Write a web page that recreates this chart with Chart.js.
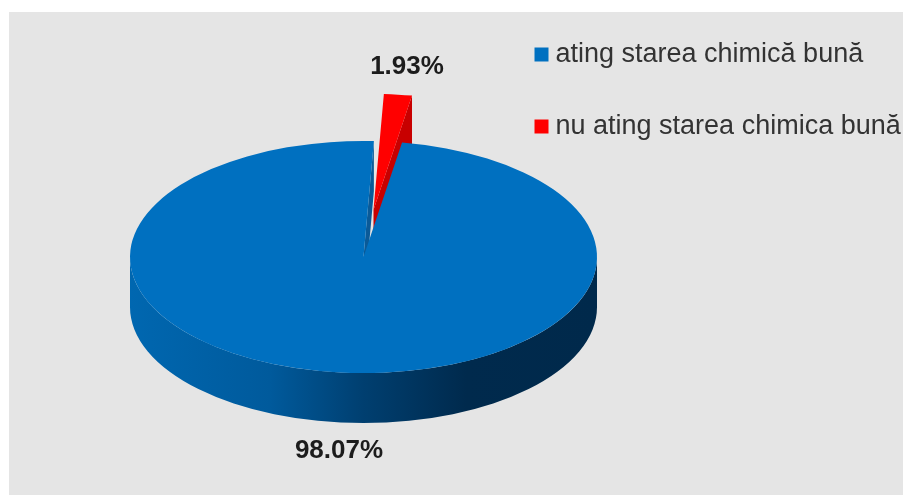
<!DOCTYPE html>
<html><head><meta charset="utf-8">
<script src="https://cdn.jsdelivr.net/npm/chart.js@4"></script>
<style>html,body{margin:0;padding:0;background:#fff}canvas{display:block;filter:blur(0.7px)}</style>
</head><body><canvas id="c" width="903" height="495"></canvas>
<script>
const categories = ["ating starea chimică bună", "nu ating starea chimica bună"];
const shares = [98.07, 1.93];
const sliceColors = ["#0070c0", "#ff0000"];
const FONT = "'Liberation Sans', Arial, sans-serif";

const SQ = 0.497, CY = 257, DEPTH = 50, EXPLODE = [0, 95];
const shift = (a, i) => {
  const mid = (a.startAngle + a.endAngle) / 2;
  return [Math.cos(mid) * EXPLODE[i], Math.sin(mid) * EXPLODE[i]];
};
const view = {
  id: "view",
  beforeDraw(chart) {
    const c = chart.ctx;
    c.save(); c.fillStyle = "#e5e5e5"; c.fillRect(9, 12, 894, 483); c.restore();
  },
  afterLayout(chart) {
    const l = chart.legend, pad = l.options.labels.padding;
    l.left = 541 - pad; l.right = 903;
    l.top = 41 - pad; l.bottom = 495;
  },
  afterDatasetUpdate(chart) {
    chart.getDatasetMeta(0).data.forEach((a, i) => {
      if (!EXPLODE[i] || a.__exploded) return;
      const draw = a.draw;
      a.__exploded = true;
      a.draw = function (ctx, area) {
        const d = shift(this, i);
        ctx.save(); ctx.translate(d[0], d[1]); draw.call(this, ctx, area); ctx.restore();
      };
    });
  },
  beforeDatasetsDraw(chart) {
    const c = chart.ctx, [blue, red] = chart.getDatasetMeta(0).data;
    const x = blue.x, R = blue.outerRadius;
    const d = shift(red, 1);
    const rx = x + d[0], ry = CY + d[1] * SQ;
    const pt = (ox, oy, a) => [ox + R * Math.cos(a), oy + R * SQ * Math.sin(a)];
    const g = c.createLinearGradient(x - R, 0, x + R, 0);
    g.addColorStop(0, "#0067b0"); g.addColorStop(0.3, "#005a9c");
    g.addColorStop(0.5, "#003f70"); g.addColorStop(0.72, "#002a4d"); g.addColorStop(1, "#00294b");
    c.save(); c.fillStyle = g; c.beginPath();
    c.ellipse(x, CY, R, R * SQ, 0, 0, Math.PI);
    c.ellipse(x, CY + DEPTH, R, R * SQ, 0, Math.PI, 0, true);
    c.closePath(); c.fill();
    let p = pt(x, CY, blue.endAngle);
    c.fillStyle = "#0a5a98"; c.beginPath();
    c.moveTo(x, CY); c.lineTo(p[0], p[1]); c.lineTo(p[0], p[1] + DEPTH); c.lineTo(x, CY + DEPTH); c.closePath(); c.fill();
    p = pt(rx, ry, red.endAngle);
    c.fillStyle = "#c80000"; c.beginPath();
    c.moveTo(rx, ry); c.lineTo(p[0], p[1]); c.lineTo(p[0], p[1] + DEPTH); c.lineTo(rx, ry + DEPTH); c.closePath(); c.fill();
    c.restore();
    c.save();
    c.translate(0, CY); c.scale(1, SQ); c.translate(0, -blue.y);
  },
  afterDatasetsDraw(chart) {
    const c = chart.ctx; c.restore();
    const arcs = chart.getDatasetMeta(0).data;
    const nudge = [[0, DEPTH + 28], [9, -28]];
    c.save();
    c.font = "bold 26px " + FONT; c.fillStyle = "#1c1c1c"; c.textAlign = "center"; c.textBaseline = "middle";
    arcs.forEach((a, i) => {
      const mid = (a.startAngle + a.endAngle) / 2;
      const off = EXPLODE[i] + a.outerRadius;
      const lx = a.x + Math.cos(mid) * off + nudge[i][0];
      const ly = CY + Math.sin(mid) * off * SQ + nudge[i][1];
      c.fillText(shares[i].toFixed(2) + "%", lx, ly);
    });
    c.restore();
  }
};

new Chart(document.getElementById("c"), {
  type: "pie",
  data: { labels: categories, datasets: [{
    data: shares, backgroundColor: sliceColors, borderWidth: 0, clip: false, hoverOffset: 0
  }]},
  options: {
    responsive: false, devicePixelRatio: 1, animation: false,
    rotation: 9.5, radius: 233.5,
    layout: { padding: { right: 176 } },
    plugins: {
      tooltip: { enabled: false },
      legend: { position: "chartArea", align: "start", labels: {
        usePointStyle: true, pointStyle: "rect", boxWidth: 1, boxHeight: 14,
        padding: 45, color: "#333333", font: { family: FONT, size: 27 }
      }}
    }
  },
  plugins: [view]
});
</script></body></html>
